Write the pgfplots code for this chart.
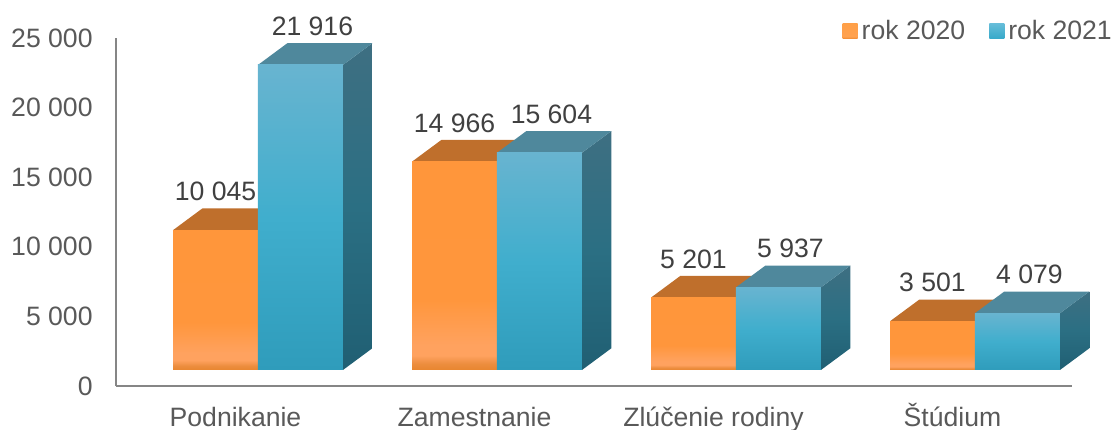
\documentclass[border=0pt]{standalone}
\usepackage{fontspec}
\setmainfont{Liberation Sans}
\usepackage{pgfplots}
\pgfplotsset{compat=1.18}

\definecolor{axisgray}{HTML}{868686}
\definecolor{ticktext}{HTML}{595959}
\definecolor{labeltext}{HTML}{404040}
\definecolor{topO}{HTML}{BF6F2C}
\definecolor{topB}{HTML}{4F889C}
\definecolor{sideO}{HTML}{BF6F2C}

\definecolor{oa}{HTML}{E8862F}
\definecolor{ob}{HTML}{EC8D3E}
\definecolor{oc}{HTML}{FFA25F}
\definecolor{od}{HTML}{FF963C}
\definecolor{oe}{HTML}{FF963A}
\definecolor{ba}{HTML}{2F9CBB}
\definecolor{bb}{HTML}{40AECD}
\definecolor{bc}{HTML}{68B4D0}
\definecolor{sa}{HTML}{205F73}
\definecolor{sb}{HTML}{2B6F83}
\definecolor{sc}{HTML}{3E6F82}
\definecolor{wa}{HTML}{F08C32}
\definecolor{wb}{HTML}{FFA250}
\definecolor{wc}{HTML}{FF9E42}
\definecolor{wd}{HTML}{37A9C9}
\definecolor{we}{HTML}{66BDD9}

\pgfdeclareverticalshading{frontO}{100bp}{
  color(0bp)=(oa); color(25bp)=(oa); color(26.5bp)=(ob); color(28.5bp)=(oc);
  color(31bp)=(oc); color(42bp)=(od); color(100bp)=(oe)}
\pgfdeclareverticalshading{frontB}{100bp}{
  color(0bp)=(ba); color(25bp)=(ba); color(50bp)=(bb); color(75bp)=(bc); color(100bp)=(bc)}
\pgfdeclareverticalshading{sideB}{100bp}{
  color(0bp)=(sa); color(25bp)=(sa); color(50bp)=(sb); color(75bp)=(sc); color(100bp)=(sc)}
\pgfdeclareverticalshading{swatchO}{100bp}{
  color(0bp)=(wa); color(27bp)=(wa); color(30bp)=(wb); color(100bp)=(wc)}
\pgfdeclareverticalshading{swatchB}{100bp}{
  color(0bp)=(wd); color(25bp)=(wd); color(75bp)=(we); color(100bp)=(we)}

% bar geometry in axis units
\def\barw{0.3556}
\def\depx{0.1227}
\def\depy{1559}
\def\basey{1150}

% #1 category, #2 series (0/1), #3 value, #4 front shading, #5 top colour, #6 side options
\newcommand{\cuboid}[6]{
  \pgfmathsetmacro{\xa}{#1+0.0941+(#2-1)*\barw}
  \pgfmathsetmacro{\xb}{\xa+\barw}
  \pgfmathsetmacro{\xc}{\xb+\depx}
  \pgfmathsetmacro{\xd}{\xa+\depx}
  \edef\yt{\the\numexpr\basey+#3\relax}
  \edef\ytb{\the\numexpr\yt+\depy\relax}
  \edef\yb{\the\numexpr\basey+\depy\relax}
  \addplot[forget plot, draw=none, #6] coordinates {(\xb,\basey) (\xc,\yb) (\xc,\ytb) (\xb,\yt) (\xb,\basey)};
  \addplot[forget plot, draw=none, fill=#5] coordinates {(\xa,\yt) (\xb,\yt) (\xc,\ytb) (\xd,\ytb) (\xa,\yt)};
  \addplot[forget plot, draw=none, shading=#4] coordinates {(\xa,\basey) (\xb,\basey) (\xb,\yt) (\xa,\yt) (\xa,\basey)};
}
% #1 category, #2 series, #3 value, #4 shift in x, #5 text
\newcommand{\barlabel}[5]{
  \pgfmathsetmacro{\xl}{#1+0.0941+(#2-0.5)*\barw+#4}
  \edef\yl{\the\numexpr\basey+\depy+#3\relax}
  \addplot[forget plot, only marks, mark=none, point meta=explicit symbolic,
    nodes near coords, every node near coord/.style={anchor=center, yshift=8.5pt, inner sep=0pt,
      font=\fontsize{13.3}{15}\selectfont, text=labeltext}]
    coordinates {(\xl,\yl) [#5]};
}

\begin{document}
\begin{tikzpicture}
\path[use as bounding box] (-58pt,-21.5pt) rectangle (499pt,193pt);
\begin{axis}[at={(0pt,0pt)}, anchor=south west, scale only axis, width=478pt, height=174pt,
  xmin=-0.5, xmax=3.5, ymin=0, ymax=25000, clip=false,
  axis lines=left, axis line style={-, draw=axisgray, line width=1pt},
  xtick={0,1,2,3}, xticklabels={Podnikanie,Zamestnanie,Zlúčenie rodiny,Štúdium},
  ytick={0,5000,10000,15000,20000,25000}, major tick length=0pt,
  scaled y ticks=false,
  tick label style={font=\fontsize{13.3}{15}\selectfont, text=ticktext},
  yticklabel style={/pgf/number format/assume math mode=true,
    /pgf/number format/1000 sep={\ }, anchor=east, inner sep=0pt, xshift=-11.5pt},
  xticklabel style={anchor=base, inner sep=0pt, yshift=-20pt},
  legend columns=2,
  legend style={draw=none, fill=none, at={(1.0462,1.02)}, anchor=east, inner sep=0pt,
    font=\fontsize{13.3}{15}\selectfont, text=ticktext,
    /tikz/every even column/.append style={column sep=10pt}},
  legend cell align=left,
  legend image code/.code={\path[#1, draw=none] (0pt,-3.75pt) rectangle (7.5pt,3.75pt);}]

\cuboid{0}{0}{10045}{frontO}{topO}{fill=sideO}
\cuboid{0}{1}{21916}{frontB}{topB}{shading=sideB}
\cuboid{1}{0}{14966}{frontO}{topO}{fill=sideO}
\cuboid{1}{1}{15604}{frontB}{topB}{shading=sideB}
\cuboid{2}{0}{5201}{frontO}{topO}{fill=sideO}
\cuboid{2}{1}{5937}{frontB}{topB}{shading=sideB}
\cuboid{3}{0}{3501}{frontO}{topO}{fill=sideO}
\cuboid{3}{1}{4079}{frontB}{topB}{shading=sideB}

\barlabel{0}{0}{10045}{0}{10 045}
\barlabel{0}{1}{21916}{0.05}{21 916}
\barlabel{1}{0}{14966}{0}{14 966}
\barlabel{1}{1}{15604}{0.05}{15 604}
\barlabel{2}{0}{5201}{0}{5 201}
\barlabel{2}{1}{5937}{0.05}{5 937}
\barlabel{3}{0}{3501}{0}{3 501}
\barlabel{3}{1}{4079}{0.05}{4 079}

\addlegendimage{shading=swatchO}
\addlegendentry{rok 2020}
\addlegendimage{shading=swatchB}
\addlegendentry{rok 2021}
\end{axis}
\end{tikzpicture}
\end{document}
